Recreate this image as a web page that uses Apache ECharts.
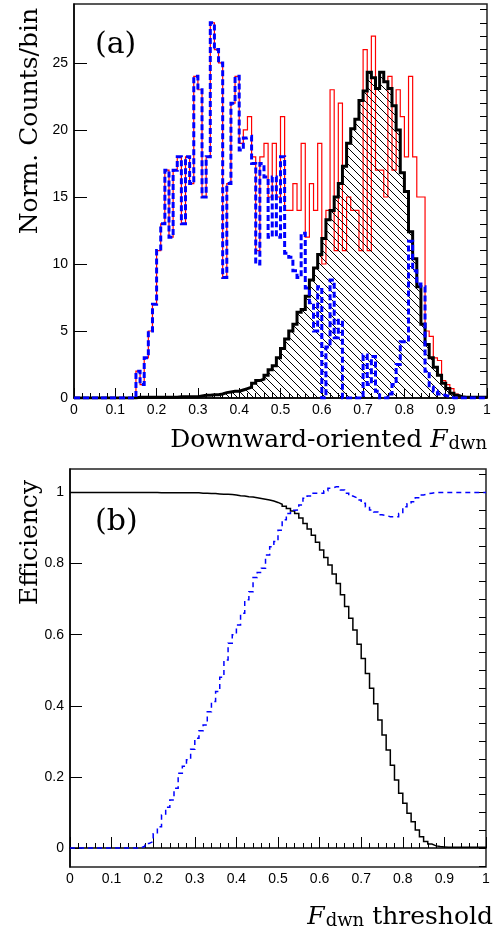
<!DOCTYPE html>
<html>
<head>
<meta charset="utf-8">
<script src="https://cdn.jsdelivr.net/npm/echarts@6/dist/echarts.min.js"></script>
<style>
html, body { margin: 0; padding: 0; background: #fff; }
#chart { width: 498px; height: 939px; }
</style>
</head>
<body>
<div id="chart"></div>
<script>
// 100 bins of width 0.01 between 0 and 1
var binWidth = 0.01;

// (a) normalised counts per bin
var allCounts = [
  0, 0, 0, 0, 0, 0, 0, 0, 0, 0,
  0, 0, 0, 0, 0, 2, 1, 3, 5, 7,
  11, 13, 17, 12, 17, 18, 13, 18, 16, 24,
  23, 15, 18, 28, 26, 25, 9, 16, 22, 24,
  19, 20, 21, 18, 11, 18, 19, 15, 19, 15,
  21, 14, 14, 16, 14, 19, 12, 16, 14, 19,
  10, 14, 23, 11, 22, 11, 15, 14, 14, 11,
  26, 11, 27, 17, 17, 15, 24, 17, 23, 21,
  18, 24, 18, 15, 15, 5, 4.6, 3, 2.8, 1.3,
  1.0, 0.7, 0.3, 0.1, 0.05, 0, 0, 0, 0, 0
];
var upCounts = [
  0, 0, 0, 0, 0, 0, 0, 0, 0, 0,
  0, 0, 0, 0, 0, 2, 1, 3, 5, 7,
  11, 13, 17, 12, 17, 18, 13, 18, 16, 24,
  23, 15, 18, 28, 26, 25, 9, 16, 22, 24,
  18.5, 19.4, 19.5, 17.5, 10, 17.5, 16.5, 12, 16.5, 12,
  18, 10.8, 10.5, 9.5, 9, 12.3, 8.2, 7.1, 5, 8.3,
  0, 3.8, 8.8, 4.5, 5.8, 0, 0, 0, 0, 0,
  3.2, 1.0, 3.1, 0.5, 0, 0, 0.3, 1.0, 2.5, 4.2,
  4.2, 11.7, 9.5, 8.5, 8.3, 2.0, 0.8, 0.5, 0.3, 0.2,
  0.1, 0, 0, 0, 0, 0, 0, 0, 0, 0
];
var downCounts = [
  0, 0, 0, 0, 0, 0, 0, 0, 0, 0,
  0, 0, 0, 0, 0, 0.05, 0.05, 0.05, 0.05, 0.05,
  0.05, 0.05, 0.05, 0.05, 0.05, 0.1, 0.1, 0.1, 0.1, 0.1,
  0.15, 0.2, 0.2, 0.25, 0.25, 0.3, 0.4, 0.45, 0.5, 0.5,
  0.6, 0.7, 0.8, 1.1, 1.3, 1.4, 1.7, 2.1, 2.4, 3.0,
  3.7, 4.4, 5.0, 5.5, 6.4, 6.6, 7.6, 8.8, 9.7, 10.7,
  11.9, 13.3, 14.0, 15.0, 16.0, 17.3, 19.0, 20.1, 20.8, 22.2,
  22.9, 24.3, 23.9, 23.1, 24.3, 23.6, 23.1, 21.8, 20.0, 16.8,
  15.4, 12.4, 10.4, 8.3, 5.5, 4.0, 3.0, 2.3, 1.7, 1.1,
  0.7, 0.35, 0.2, 0.1, 0.05, 0.05, 0.05, 0.05, 0.05, 0.05
];

// (b) efficiency vs F_dwn threshold
var downEff = [
  1, 1, 1, 1, 1, 1, 1, 1, 1, 1,
  1, 1, 1, 1, 1, 1, 1, 1, 1, 1,
  1, 0.999, 0.999, 0.999, 0.999, 0.999, 0.999, 0.999, 0.999, 0.999,
  0.999, 0.998, 0.998, 0.997, 0.997, 0.996, 0.995, 0.995, 0.994, 0.993,
  0.991, 0.990, 0.988, 0.987, 0.985, 0.983, 0.981, 0.979, 0.976, 0.972,
  0.967, 0.961, 0.955, 0.948, 0.941, 0.928, 0.913, 0.897, 0.880, 0.860,
  0.838, 0.817, 0.796, 0.771, 0.744, 0.712, 0.679, 0.646, 0.613, 0.573,
  0.533, 0.491, 0.449, 0.406, 0.360, 0.318, 0.276, 0.233, 0.191, 0.154,
  0.126, 0.098, 0.074, 0.051, 0.032, 0.018, 0.011, 0.006, 0.004, 0.003,
  0.002, 0.002, 0.002, 0.002, 0.002, 0.002, 0.002, 0.002, 0.002, 0.002
];
var upEff = [
  0, 0, 0, 0, 0, 0, 0, 0, 0, 0,
  0, 0, 0, 0, 0, 0, 0, 0.005, 0.013, 0.018,
  0.04, 0.06, 0.093, 0.115, 0.135, 0.168, 0.21, 0.23, 0.248, 0.278,
  0.309, 0.33, 0.346, 0.383, 0.412, 0.44, 0.48, 0.529, 0.576, 0.6,
  0.627, 0.66, 0.698, 0.721, 0.761, 0.775, 0.787, 0.824, 0.847, 0.862,
  0.894, 0.923, 0.941, 0.95, 0.951, 0.965, 0.984, 0.99, 0.998, 0.998,
  0.998, 1.005, 1.012, 1.016, 1.016, 1.007, 0.998, 0.99, 0.985, 0.979,
  0.97, 0.96, 0.951, 0.945, 0.937, 0.935, 0.932, 0.932, 0.932, 0.941,
  0.96, 0.968, 0.974, 0.985, 0.993, 0.996, 0.998, 1, 1, 1,
  1, 1, 1, 1, 1, 1, 1, 1, 1, 1
];

// tick positions
var yTicksA = [0, 5, 10, 15, 20, 25];
var yMinorA = [0, 1, 2, 3, 4, 5, 6, 7, 8, 9, 10, 11, 12, 13, 14, 15, 16, 17, 18, 19, 20, 21, 22, 23, 24, 25, 26, 27, 28, 29];
var yTicksB = [0, 0.2, 0.4, 0.6, 0.8, 1];
var yMinorB = [-0.05, 0, 0.05, 0.1, 0.15, 0.2, 0.25, 0.3, 0.35, 0.4, 0.45, 0.5, 0.55, 0.6, 0.65, 0.7, 0.75, 0.8, 0.85, 0.9, 0.95, 1, 1.05];

var SERIF = 'DejaVu Serif';
var SANS = 'Liberation Sans';

function toSteps(vals) {
    var pts = [];
    for (var i = 0; i < vals.length; i++) {
        pts.push([+(i * binWidth).toFixed(2), vals[i]]);
    }
    pts.push([+(vals.length * binWidth).toFixed(2), vals[vals.length - 1]]);
    return pts;
}

function hatch() {
    var c = document.createElement('canvas');
    c.width = 8;
    c.height = 8;
    var g = c.getContext('2d');
    g.strokeStyle = '#000';
    g.lineWidth = 1;
    g.beginPath();
    for (var k = -8; k <= 8; k += 8) {
        g.moveTo(k, 0);
        g.lineTo(k + 8, 8);
    }
    g.stroke();
    return c;
}

function fmt(v) {
    return String(+v.toFixed(2));
}

function xAxisOf(idx, tickLen) {
    return {
        gridIndex: idx, type: 'value', min: 0, max: 1, interval: 0.1,
        axisLine: {show: true, lineStyle: {color: '#000', width: 1.5}},
        axisTick: {show: true, inside: true, length: tickLen, lineStyle: {color: '#000', width: 1}},
        minorTick: {show: true, splitNumber: 5, length: 5, lineStyle: {color: '#000', width: 1}},
        axisLabel: {color: '#000', fontFamily: SANS, fontSize: 14, margin: 5, formatter: fmt},
        splitLine: {show: false}
    };
}

function yAxisOf(idx, min, max, ticks, len, labels) {
    return {
        gridIndex: idx, type: 'value', min: min, max: max,
        axisLine: {show: labels, lineStyle: {color: '#000', width: 1.5}},
        axisTick: {show: true, inside: true, length: len, customValues: ticks, lineStyle: {color: '#000', width: 1}},
        axisLabel: {show: labels, customValues: ticks, color: '#000', fontFamily: SANS, fontSize: 14, margin: 6, formatter: fmt},
        splitLine: {show: false}
    };
}

var dom = document.getElementById('chart');
var myChart = echarts.init(dom, null, {renderer: 'canvas'});

var option = {
    animation: false,
    backgroundColor: '#fff',
    grid: [
        {left: 74, top: 4, width: 413, height: 394, show: true, borderColor: '#222', borderWidth: 1.5},
        {left: 70, top: 469, width: 416, height: 398, show: true, borderColor: '#222', borderWidth: 1.5}
    ],
    xAxis: [xAxisOf(0, 10), xAxisOf(1, 11)],
    yAxis: [
        yAxisOf(0, 0, 29.4, yTicksA, 13, true),
        yAxisOf(0, 0, 29.4, yMinorA, 7, false),
        yAxisOf(1, -0.0534, 1.066, yTicksB, 12, true),
        yAxisOf(1, -0.0534, 1.066, yMinorB, 7, false)
    ],
    series: [
        {
            name: 'all', type: 'line', step: 'end', xAxisIndex: 0, yAxisIndex: 0,
            data: toSteps(allCounts), showSymbol: false, symbol: 'none', z: 2,
            lineStyle: {color: '#ff0000', width: 1.2, join: 'miter'}
        },
        {
            name: 'downward', type: 'line', step: 'end', xAxisIndex: 0, yAxisIndex: 0,
            data: toSteps(downCounts), showSymbol: false, symbol: 'none', z: 3,
            lineStyle: {color: '#000', width: 3, join: 'miter'},
            areaStyle: {color: {image: hatch(), repeat: 'repeat'}, opacity: 1}
        },
        {
            name: 'upward', type: 'line', step: 'end', xAxisIndex: 0, yAxisIndex: 0,
            data: toSteps(upCounts), showSymbol: false, symbol: 'none', z: 4,
            lineStyle: {color: '#0000ff', width: 3, type: [6, 3], join: 'miter'}
        },
        {
            name: 'downEff', type: 'line', step: 'end', xAxisIndex: 1, yAxisIndex: 2,
            data: toSteps(downEff), showSymbol: false, symbol: 'none', z: 3,
            lineStyle: {color: '#000', width: 1.5, join: 'miter'}
        },
        {
            name: 'upEff', type: 'line', step: 'end', xAxisIndex: 1, yAxisIndex: 2,
            data: toSteps(upEff), showSymbol: false, symbol: 'none', z: 4,
            lineStyle: {color: '#0000ff', width: 1.5, type: [5, 4], join: 'miter'}
        }
    ],
    graphic: [
        {type: 'text', x: 95, y: 45, style: {text: '(a)', fill: '#000', font: '30px "DejaVu Serif"', verticalAlign: 'middle'}},
        {type: 'text', x: 95, y: 522, style: {text: '(b)', fill: '#000', font: '30px "DejaVu Serif"', verticalAlign: 'middle'}},
        {type: 'text', x: 30, y: 8, rotation: Math.PI / 2,
            style: {text: 'Norm. Counts/bin', fill: '#000', font: '25px "DejaVu Serif"', align: 'right', verticalAlign: 'middle'}},
        {type: 'text', x: 30, y: 480, rotation: Math.PI / 2,
            style: {text: 'Efficiency', fill: '#000', font: '25px "DejaVu Serif"', align: 'right', verticalAlign: 'middle'}},
        {type: 'text', x: 487, y: 440,
            style: {
                text: '{t|Downward-oriented }{f|F}{s|dwn}', align: 'right', verticalAlign: 'middle',
                rich: {
                    t: {fontFamily: SERIF, fontSize: 25, fill: '#000'},
                    f: {fontFamily: SERIF, fontSize: 25, fontStyle: 'italic', fill: '#000'},
                    s: {fontFamily: SERIF, fontSize: 18, fill: '#000', padding: [9, 0, 0, 1]}
                }
            }},
        {type: 'text', x: 493, y: 917,
            style: {
                text: '{f|F}{s|dwn}{t| threshold}', align: 'right', verticalAlign: 'middle',
                rich: {
                    t: {fontFamily: SERIF, fontSize: 25, fill: '#000'},
                    f: {fontFamily: SERIF, fontSize: 25, fontStyle: 'italic', fill: '#000'},
                    s: {fontFamily: SERIF, fontSize: 18, fill: '#000', padding: [9, 0, 0, 1]}
                }
            }}
    ]
};

if (option && typeof option === 'object') {
    myChart.setOption(option);
}
</script>
</body>
</html>
